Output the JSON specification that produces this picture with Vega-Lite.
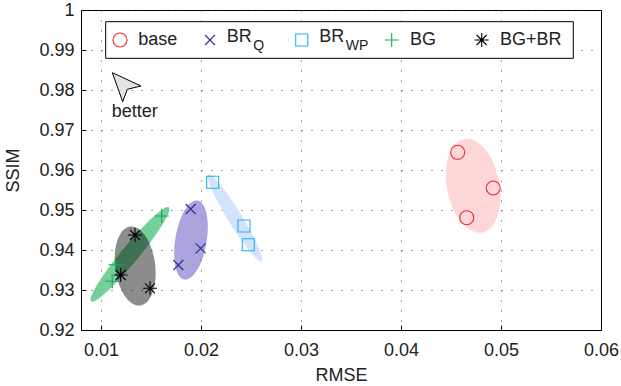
{
  "$schema": "https://vega.github.io/schema/vega-lite/v6.json",
  "width": 520,
  "height": 320,
  "autosize": {"type": "none"},
  "padding": {"left": 81, "top": 10, "right": 20, "bottom": 56},
  "config": {
    "font": "Liberation Sans",
    "view": {"stroke": "#000", "strokeWidth": 1},
    "axis": {
      "domainColor": "#000",
      "tickColor": "#000",
      "labelColor": "#222",
      "titleColor": "#222",
      "labelFontSize": 18,
      "titleFontSize": 18,
      "titleFontWeight": "normal",
      "labelFont": "Liberation Sans",
      "titleFont": "Liberation Sans",
      "labelOverlap": false,
      "labelFlush": false,
      "gridColor": "#333",
      "gridDash": [1, 9],
      "gridWidth": 1,
      "gridOpacity": 0.9,
      "tickSize": -5
    }
  },
  "datasets": {
    "ellipses": [
      {"series": "base", "cx": 0.04722, "cy": 0.95605},
      {"series": "BR_Q", "cx": 0.0190, "cy": 0.9425},
      {"series": "BR_WP", "cx": 0.0234, "cy": 0.9480},
      {"series": "BG", "cx": 0.0129, "cy": 0.9389},
      {"series": "BG+BR", "cx": 0.01342, "cy": 0.9360}
    ],
    "points": [
      {"series": "base", "rmse": 0.04567, "ssim": 0.96442},
      {"series": "base", "rmse": 0.04922, "ssim": 0.9555},
      {"series": "base", "rmse": 0.04657, "ssim": 0.94808},
      {"series": "BR_Q", "rmse": 0.01897, "ssim": 0.95025},
      {"series": "BR_Q", "rmse": 0.01997, "ssim": 0.94042},
      {"series": "BR_Q", "rmse": 0.01773, "ssim": 0.93625},
      {"series": "BR_WP", "rmse": 0.02117, "ssim": 0.95692},
      {"series": "BR_WP", "rmse": 0.0243, "ssim": 0.946},
      {"series": "BR_WP", "rmse": 0.02473, "ssim": 0.94133},
      {"series": "BG", "rmse": 0.01607, "ssim": 0.9485},
      {"series": "BG", "rmse": 0.01145, "ssim": 0.9363},
      {"series": "BG", "rmse": 0.01112, "ssim": 0.9322},
      {"series": "BG+BR", "rmse": 0.0134, "ssim": 0.94375},
      {"series": "BG+BR", "rmse": 0.01197, "ssim": 0.93375},
      {"series": "BG+BR", "rmse": 0.0149, "ssim": 0.93042}
    ],
    "legendbox": [
      {"x0": 0.01047, "x1": 0.05723, "y0": 0.98792, "y1": 0.99708}
    ],
    "legend": [
      {"series": "base", "sx": 0.0119, "tx": 0.01373, "ly": 0.9925, "ty": 0.9925, "label": "base", "sub": ""},
      {"series": "BR_Q", "sx": 0.0209, "tx": 0.02257, "ly": 0.9925, "ty": 0.99333, "label": "BR", "sub": "Q"},
      {"series": "BR_WP", "sx": 0.03007, "tx": 0.03183, "ly": 0.9925, "ty": 0.99333, "label": "BR", "sub": "WP"},
      {"series": "BG", "sx": 0.03907, "tx": 0.0409, "ly": 0.9925, "ty": 0.9925, "label": "BG", "sub": ""},
      {"series": "BG+BR", "sx": 0.04807, "tx": 0.0499, "ly": 0.9925, "ty": 0.9925, "label": "BG+BR", "sub": ""}
    ],
    "arrow": [
      {"x": 0.0124, "y": 0.981}
    ],
    "note": [
      {"x": 0.01337, "y": 0.9745, "text": "better"}
    ]
  },
  "resolve": {"scale": {"shape": "independent", "color": "independent"}},
  "layer": [
    {
      "data": {"name": "ellipses"},
      "mark": {"type": "point", "filled": true, "size": 4, "strokeWidth": 0, "opacity": 1},
      "encoding": {
        "x": {
          "field": "cx", "type": "quantitative", "title": "RMSE",
          "scale": {"domain": [0.008, 0.06], "nice": false, "zero": false},
          "axis": {"values": [0.01, 0.02, 0.03, 0.04, 0.05, 0.06], "format": ".2f", "labelPadding": 16, "titlePadding": 7, "labelOverlap": false}
        },
        "y": {
          "field": "cy", "type": "quantitative", "title": "SSIM",
          "scale": {"domain": [0.92, 1], "nice": false, "zero": false},
          "axis": {"values": [0.92, 0.93, 0.94, 0.95, 0.96, 0.97, 0.98, 0.99, 1], "tickCount": 9, "labelExpr": "datum.value >= 0.9999 ? '1' : format(datum.value, '.2f')", "labelPadding": 12, "titlePadding": 16, "labelOverlap": false, "labelSeparation": 0}
        },
        "shape": {
          "field": "series", "type": "nominal", "legend": null,
          "scale": {
            "domain": ["base", "BR_Q", "BR_WP", "BG", "BG+BR"],
            "range": [
              "M9.14,46.61A47.5,26,78.9,1,0,-9.14,-46.61A47.5,26,78.9,1,0,9.14,46.61Z",
              "M6.53,-39.46A40,15.5,-80.6,1,0,-6.53,39.46A40,15.5,-80.6,1,0,6.53,-39.46Z",
              "M26.65,43.48A51,7,58.5,1,0,-26.65,-43.48A51,7,58.5,1,0,26.65,43.48Z",
              "M38.88,-47A61,8.5,-50.4,1,0,-38.88,47A61,8.5,-50.4,1,0,38.88,-47Z",
              "M4.99,39.49A39.8,20,82.8,1,0,-4.99,-39.49A39.8,20,82.8,1,0,4.99,39.49Z"
            ]
          }
        },
        "color": {
          "field": "series", "type": "nominal", "legend": null,
          "scale": {
            "domain": ["base", "BR_Q", "BR_WP", "BG", "BG+BR"],
            "range": ["#ffd6d7", "#aaa3dd", "#d3e3fb", "#74cf9a", "rgba(0,0,0,0.45)"]
          }
        }
      }
    },
    {
      "data": {"name": "points"},
      "mark": {"type": "point", "filled": false, "size": 4, "strokeWidth": 1.1, "opacity": 1},
      "encoding": {
        "x": {"field": "rmse", "type": "quantitative", "title": "RMSE"},
        "y": {"field": "ssim", "type": "quantitative", "title": "SSIM"},
        "shape": {
          "field": "series", "type": "nominal", "legend": null,
          "scale": {
            "domain": ["base", "BR_Q", "BR_WP", "BG", "BG+BR"],
            "range": ["M-7,0A7,7,0,1,0,7,0A7,7,0,1,0,-7,0Z", "M-5,-5L5,5M-5,5L5,-5", "M-6,-6H6V6H-6Z", "M-7,0L7,0M0,-7L0,7", "M-7,0L7,0M0,-7L0,7M-5,-5L5,5M-5,5L5,-5"]
          }
        },
        "color": {
          "field": "series", "type": "nominal", "legend": null,
          "scale": {
            "domain": ["base", "BR_Q", "BR_WP", "BG", "BG+BR"],
            "range": ["#e8292f", "#2d2d8c", "#1fb0ee", "#1aa550", "#000000"]
          }
        }
      }
    },
    {
      "data": {"name": "legendbox"},
      "mark": {"type": "rect", "fill": "#ffffff", "stroke": "#000000", "strokeWidth": 1},
      "encoding": {
        "x": {"field": "x0", "type": "quantitative", "title": "RMSE"},
        "x2": {"field": "x1"},
        "y": {"field": "y0", "type": "quantitative", "title": "SSIM"},
        "y2": {"field": "y1"}
      }
    },
    {
      "data": {"name": "legend"},
      "mark": {"type": "point", "filled": false, "size": 4, "strokeWidth": 1.1, "opacity": 1},
      "encoding": {
        "x": {"field": "sx", "type": "quantitative", "title": "RMSE"},
        "y": {"field": "ly", "type": "quantitative", "title": "SSIM"},
        "shape": {
          "field": "series", "type": "nominal", "legend": null,
          "scale": {
            "domain": ["base", "BR_Q", "BR_WP", "BG", "BG+BR"],
            "range": ["M-7,0A7,7,0,1,0,7,0A7,7,0,1,0,-7,0Z", "M-5,-5L5,5M-5,5L5,-5", "M-6,-6H6V6H-6Z", "M-7,0L7,0M0,-7L0,7", "M-7,0L7,0M0,-7L0,7M-5,-5L5,5M-5,5L5,-5"]
          }
        },
        "color": {
          "field": "series", "type": "nominal", "legend": null,
          "scale": {
            "domain": ["base", "BR_Q", "BR_WP", "BG", "BG+BR"],
            "range": ["#e8292f", "#2d2d8c", "#1fb0ee", "#1aa550", "#000000"]
          }
        }
      }
    },
    {
      "data": {"name": "legend"},
      "mark": {"type": "text", "align": "left", "baseline": "middle", "fontSize": 18, "color": "#222"},
      "encoding": {
        "x": {"field": "tx", "type": "quantitative", "title": "RMSE"},
        "y": {"field": "ty", "type": "quantitative", "title": "SSIM"},
        "text": {"field": "label"}
      }
    },
    {
      "data": {"name": "legend"},
      "transform": [{"filter": "datum.sub != ''"}],
      "mark": {"type": "text", "align": "left", "baseline": "middle", "fontSize": 14, "dx": 26.5, "dy": 9, "color": "#222"},
      "encoding": {
        "x": {"field": "tx", "type": "quantitative", "title": "RMSE"},
        "y": {"field": "ty", "type": "quantitative", "title": "SSIM"},
        "text": {"field": "sub"}
      }
    },
    {
      "data": {"name": "arrow"},
      "mark": {"type": "point", "filled": true, "size": 4, "shape": "M-12.7,-13.3L16,0L2.3,3.3L-2.3,15.7Z", "fill": "#e3e3e3", "stroke": "#000000", "strokeWidth": 1, "opacity": 1},
      "encoding": {
        "x": {"field": "x", "type": "quantitative", "title": "RMSE"},
        "y": {"field": "y", "type": "quantitative", "title": "SSIM"}
      }
    },
    {
      "data": {"name": "note"},
      "mark": {"type": "text", "align": "center", "baseline": "middle", "fontSize": 18, "color": "#222"},
      "encoding": {
        "x": {"field": "x", "type": "quantitative", "title": "RMSE"},
        "y": {"field": "y", "type": "quantitative", "title": "SSIM"},
        "text": {"field": "text"}
      }
    }
  ]
}
